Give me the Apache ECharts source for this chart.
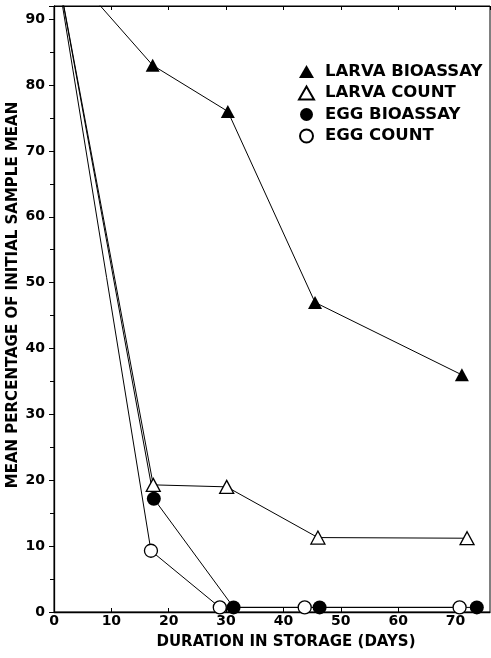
<!DOCTYPE html>
<html>
<head>
<meta charset="utf-8">
<script src="https://cdn.jsdelivr.net/npm/echarts@6/dist/echarts.min.js"></script>
<style>
  html, body { margin: 0; padding: 0; background: #fff; }
  #chart { width: 491px; height: 658px; }
</style>
</head>
<body>
<div id="chart"></div>
<script>
// Days in storage and mean % of initial sample mean for each assay
const larvaBioassayDays = [0, 17.2, 30.3, 45.5, 71.1];
const larvaBioassayPct  = [100, 83, 76, 47, 36];

const larvaCountDays = [0, 17.3, 30.1, 46, 72];
const larvaCountPct  = [100, 19.3, 19, 11.3, 11.2];

const eggBioassayDays = [0, 17.4, 31.3, 46.3, 73.7];
const eggBioassayPct  = [100, 17.2, 0.7, 0.7, 0.7];

const eggCountDays = [0, 16.9, 28.9, 43.7, 70.7];
const eggCountPct  = [100, 9.3, 0.7, 0.7, 0.7];

const seriesNames = ['LARVA BIOASSAY', 'LARVA COUNT', 'EGG BIOASSAY', 'EGG COUNT'];

const FONT = 'DejaVu Sans';

// Pair x/y arrays; the day-0 starting value lies above the plotted range
function pairs(xs, ys) {
  return xs.map((x, i) => i === 0
    ? { value: [x, ys[i]], symbol: 'none' }
    : [x, ys[i]]);
}

function lineSeries(name, xs, ys, symbol, size, filled) {
  return {
    name: name,
    type: 'line',
    data: pairs(xs, ys),
    symbol: symbol,
    symbolSize: size,
    showAllSymbol: true,
    clip: true,
    lineStyle: { color: '#000', width: 1 },
    itemStyle: filled
      ? { color: '#000', borderColor: '#000', borderWidth: 0 }
      : { color: '#fff', borderColor: '#000', borderWidth: 1.3 },
    emphasis: { disabled: true },
    animation: false
  };
}

const chart = echarts.init(document.getElementById('chart'));
chart.setOption({
  backgroundColor: '#fff',
  animation: false,
  grid: {
    left: 54, right: 1, top: 6, bottom: 46,
    outerBoundsMode: 'none',
    containLabel: false,
    show: true, borderColor: '#000', borderWidth: 1
  },
  legend: {
    orient: 'vertical',
    left: 298,
    top: 63,
    padding: 0,
    itemWidth: 15,
    itemHeight: 13,
    itemGap: 4.5,
    data: [
      { name: seriesNames[0], icon: 'triangle' },
      { name: seriesNames[1], icon: 'triangle' },
      { name: seriesNames[2], icon: 'circle' },
      { name: seriesNames[3], icon: 'circle' }
    ],
    textStyle: {
      fontFamily: FONT, fontWeight: 'bold', fontSize: 16.5, color: '#000',
      padding: [0, 0, 0, 6]
    }
  },
  xAxis: [{
    type: 'value',
    min: 0, max: 76, interval: 10,
    position: 'bottom',
    name: 'DURATION IN STORAGE (DAYS)',
    nameLocation: 'middle',
    nameGap: 23,
    nameMoveOverlap: false,
    nameTextStyle: {
      fontFamily: FONT, fontWeight: 'bold', fontSize: 15, color: '#000',
      padding: [0, 0, 0, 28]
    },
    axisLine: { show: true, lineStyle: { color: '#000', width: 1.3 } },
    axisTick: { show: true, inside: true, length: 4, lineStyle: { color: '#000' } },
    axisLabel: {
      showMaxLabel: false, margin: 2,
      fontFamily: FONT, fontWeight: 'bold', fontSize: 14, color: '#000'
    },
    splitLine: { show: false }
  }, {
    type: 'value',
    min: 0, max: 76, interval: 10,
    position: 'top',
    axisLine: { show: true, lineStyle: { color: '#000', width: 1 } },
    axisTick: { show: true, inside: true, length: 4, lineStyle: { color: '#000' } },
    axisLabel: { show: false },
    splitLine: { show: false }
  }],
  yAxis: {
    type: 'value',
    min: 0, max: 92, interval: 10,
    name: 'MEAN PERCENTAGE OF INITIAL SAMPLE MEAN',
    nameLocation: 'middle',
    nameGap: 33,
    nameMoveOverlap: false,
    nameTextStyle: {
      fontFamily: FONT, fontWeight: 'bold', fontSize: 15, color: '#000',
      padding: [0, 0, 0, 28]
    },
    axisLine: { show: true, lineStyle: { color: '#000', width: 1.3 } },
    axisTick: { show: true, inside: false, length: 5, lineStyle: { color: '#000' } },
    minorTick: { show: true, splitNumber: 2, length: 4, lineStyle: { color: '#000' } },
    axisLabel: {
      showMaxLabel: false, margin: 9,
      fontFamily: FONT, fontWeight: 'bold', fontSize: 14, color: '#000'
    },
    splitLine: { show: false }
  },
  series: [
    lineSeries(seriesNames[0], larvaBioassayDays, larvaBioassayPct, 'triangle', [14, 13], true),
    lineSeries(seriesNames[1], larvaCountDays, larvaCountPct, 'triangle', [14, 13], false),
    lineSeries(seriesNames[2], eggBioassayDays, eggBioassayPct, 'circle', 14, true),
    lineSeries(seriesNames[3], eggCountDays, eggCountPct, 'circle', 13, false)
  ]
});
</script>
</body>
</html>
